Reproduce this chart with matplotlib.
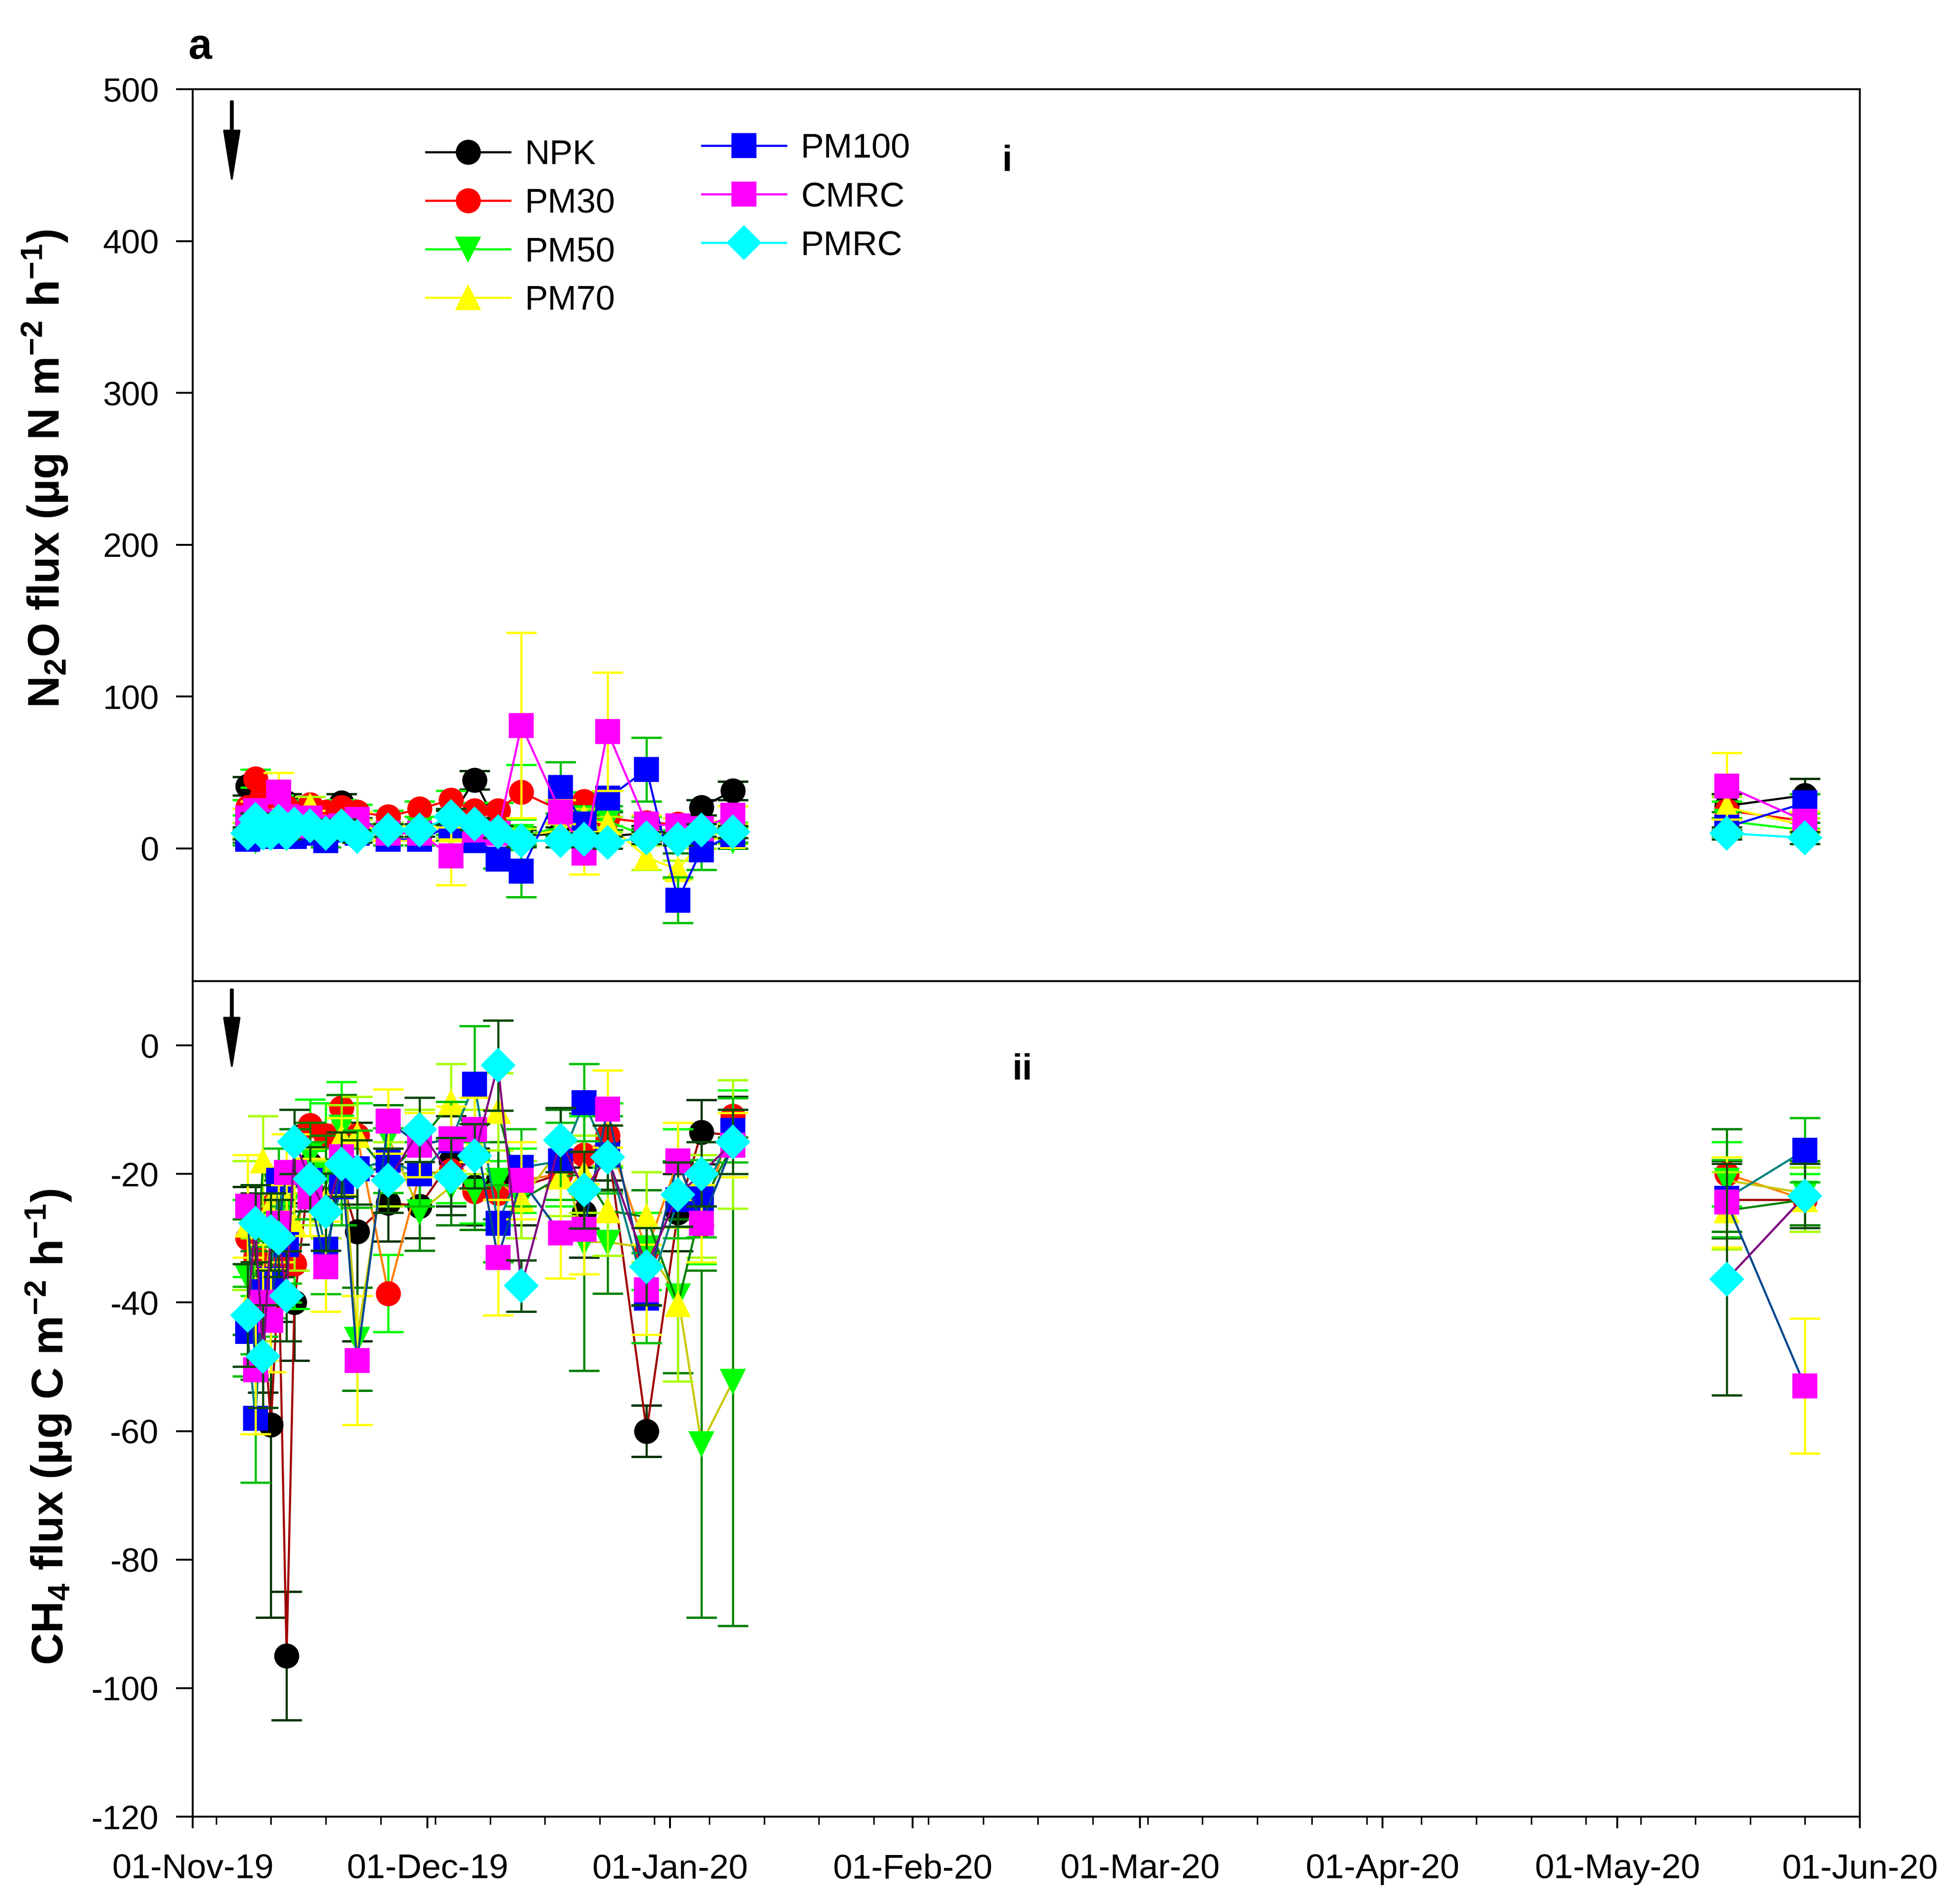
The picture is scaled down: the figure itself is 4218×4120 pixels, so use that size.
import datetime as dt
import matplotlib
matplotlib.use('Agg')
import matplotlib.pyplot as plt
import matplotlib.dates as mdates
from matplotlib.lines import Line2D

plt.rcParams['font.family'] = ['Liberation Sans', 'DejaVu Sans']
plt.rcParams['mathtext.fontset'] = 'custom'
plt.rcParams['mathtext.rm'] = 'Liberation Sans'
plt.rcParams['mathtext.bf'] = 'Liberation Sans:bold'
plt.rcParams['mathtext.default'] = 'bf'
plt.rcParams['axes.unicode_minus'] = False

# sampling dates
dates = [dt.date(2019, 11, d) for d in (8, 9, 10, 11, 12, 13, 14, 16, 18, 20, 22, 26, 30)] + \
        [dt.date(2019, 12, d) for d in (4, 7, 10, 13, 18, 21, 24, 29)] + \
        [dt.date(2020, 1, d) for d in (2, 5, 9)] + \
        [dt.date(2020, 5, 15), dt.date(2020, 5, 25)]

treatments = ['NPK', 'PM30', 'PM50', 'PM70', 'PM100', 'CMRC', 'PMRC']

# N2O flux (ug N m-2 h-1)
npk_n2o = [41, 30, 27, 22, 18, 30, 20, 18, 20, 30, 15, 12, 12, 20, 45, 15, 8, 10, 12, 8, 10, 12, 27, 38, 28, 35]
pm30_n2o = [27, 46, 35, 28, 30, 27, 22, 29, 24, 27, 24, 21, 26, 32, 25, 25, 37, 25, 31, 20, 17, 16, 14, 12, 25, 18]
pm50_n2o = [8, 5, 8, 10, 9, 7, 10, 12, 10, 14, 12, 10, 12, 10, 12, 10, 8, 14, 20, 18, 8, 3, 8, 5, 18, 12]
pm70_n2o = [12, 15, 24, 15, 14, 12, 16, 28, 12, 15, 14, 12, 10, 12, 10, 10, 8, 12, 20, 16, -6, -14, 5, 8, 27, 15]
pm100_n2o = [6, 12, 8, 10, 18, 8, 8, 10, 5, 12, 10, 6, 6, 15, 5, -7, -15, 40, 16, 33, 52, -34, -1, 9, 14, 30]
cmrc_n2o = [20, 25, 18, 15, 37, 21, 15, 20, 14, 15, 19, 10, 10, -5, 12, 10, 81, 24, -3, 77, 16, 15, 13, 22, 41, 18]
pmrc_n2o = [10, 19, 10, 10, 18, 10, 16, 15, 10, 15, 8, 12, 12, 21, 16, 11, 5, 5, 6, 4, 7, 6, 12, 11, 10, 7]

npk_n2o_se = [6, 5, 5, 4, 5, 6, 4, 5, 4, 6, 5, 4, 4, 5, 6, 5, 4, 4, 5, 4, 5, 4, 5, 6, 8, 11]
pm30_n2o_se = [5, 6, 5, 5, 5, 5, 4, 5, 4, 5, 5, 4, 5, 6, 5, 5, 18, 5, 6, 5, 4, 4, 4, 5, 6, 5]
pm50_n2o_se = [4, 4, 5, 4, 5, 4, 5, 4, 5, 5, 4, 5, 4, 5, 4, 5, 6, 6, 8, 6, 5, 6, 5, 5, 6, 5]
pm70_n2o_se = [5, 6, 6, 5, 5, 5, 5, 6, 5, 5, 5, 5, 5, 5, 5, 5, 5, 5, 6, 5, 8, 6, 5, 5, 7, 5]
pm100_n2o_se = [4, 5, 4, 4, 5, 4, 4, 4, 4, 5, 4, 4, 4, 6, 5, 6, 17, 17, 6, 5, 21, 15, 13, 5, 6, 6]
cmrc_n2o_se = [6, 6, 5, 5, 13, 5, 5, 5, 5, 5, 5, 5, 5, 19, 6, 5, 61, 8, 14, 39, 6, 5, 5, 6, 22, 6]
pmrc_n2o_se = [4, 4, 4, 4, 4, 4, 4, 4, 4, 4, 4, 4, 4, 5, 4, 4, 4, 4, 4, 4, 4, 4, 4, 4, 4, 4]

# CH4 flux (ug C m-2 h-1)
npk_ch4 = [-30, -33, -42, -59, -35, -95, -40, -18.5, -24, -21, -29, -24.5, -25, -18, -22, -21, -22, -20, -26, -15, -60, -26, -13.5, -14, -24, -24]
pm30_ch4 = [-30, -33, -35, -25, -33, -34, -34, -12.4, -14, -9.7, -14, -38.6, -20, -19.5, -22.7, -23, -21, -20, -17, -14, -32, -18, -28, -11, -20, -24]
pm50_ch4 = [-36, -42, -38, -30, -28, -25, -20, -17, -20, -12.7, -45.7, -14.3, -25.9, -22, -22.7, -21, -24, -16, -30.6, -30.6, -31.5, -39, -62, -52.3, -21, -23]
pm70_ch4 = [-28, -38, -18, -25, -22, -30, -28, -22, -24, -14.3, -14, -20, -15, -8.9, -15, -10.3, -24, -20.5, -20, -25.7, -26.7, -40.3, -25, -15.4, -25.7, -24]
pm100_ch4 = [-44.5, -58, -38.3, -36.4, -21, -31, -20, -21, -31.7, -22, -19.2, -17.9, -20, -14.8, -6, -27.7, -19, -18, -8.9, -17, -39.3, -24, -23.8, -13.2, -23.8, -16.3]
cmrc_ch4 = [-25, -50.5, -40, -42.8, -27.7, -19.8, -19.8, -23.6, -34.4, -17.3, -49, -11.8, -15.5, -14.5, -13.1, -33, -21, -29.2, -28.6, -9.9, -38, -18, -27.7, -15.5, -24.4, -53]
pmrc_ch4 = [-42, -27.7, -48.4, -29, -30, -39, -15, -20.8, -25.9, -18.5, -19.7, -21, -13.1, -20.4, -17.2, -3.1, -37.4, -14.7, -22.5, -17.4, -34.4, -23.2, -20, -15, -36.4, -23.4]

npk_ch4_se = [8, 10, 12, 30, 8, 10, 9, 6, 6, 7, 17, 6, 5, 7, 6, 6, 6, 5, 7, 6, 4, 6, 5, 6, 6, 5]
pm30_ch4_se = [6, 6, 7, 6, 6, 6, 7, 4, 5, 4, 5, 6, 5, 5, 5, 5, 5, 5, 6, 5, 6, 5, 6, 4, 5, 4]
pm50_ch4_se = [9, 10, 8, 7, 7, 6, 7, 5, 6, 5, 8, 5, 6, 6, 6, 6, 6, 6, 20, 8, 9, 12, 27, 38, 8, 5]
pm70_ch4_se = [10, 8, 7, 6, 6, 7, 7, 6, 6, 5, 6, 5, 5, 6, 5, 6, 6, 6, 6, 7, 7, 12, 8, 10, 6, 5]
pm100_ch4_se = [7, 10, 7, 6, 5, 6, 5, 6, 7, 6, 6, 5, 5, 6, 9, 6, 6, 6, 6, 6, 7, 6, 6, 5, 6, 5]
cmrc_ch4_se = [8, 10, 9, 8, 6, 6, 6, 6, 7, 6, 10, 5, 5, 5, 5, 9, 6, 7, 7, 6, 7, 6, 6, 5, 7, 10.5]
pmrc_ch4_se = [8, 6, 8, 6, 6, 7, 5, 5, 6, 5, 5, 5, 5, 6, 5, 7, 4, 5, 6, 5, 6, 5, 5, 5, 18, 5]

n2o = [npk_n2o, pm30_n2o, pm50_n2o, pm70_n2o, pm100_n2o, cmrc_n2o, pmrc_n2o]
n2o_se = [npk_n2o_se, pm30_n2o_se, pm50_n2o_se, pm70_n2o_se, pm100_n2o_se, cmrc_n2o_se, pmrc_n2o_se]
ch4 = [npk_ch4, pm30_ch4, pm50_ch4, pm70_ch4, pm100_ch4, cmrc_ch4, pmrc_ch4]
ch4_se = [npk_ch4_se, pm30_ch4_se, pm50_ch4_se, pm70_ch4_se, pm100_ch4_se, cmrc_ch4_se, pmrc_ch4_se]

markers = ['o', 'o', 'v', '^', 's', 's', 'D']
marker_colors = ['#000000', '#FF0000', '#00FF00', '#FFFF00', '#0000FF', '#FF00FF', '#00FFFF']
err_colors = ['#003300', '#00FF00', '#008000', '#A8FF00', '#00C000', '#FFFF00', '#0A4A0A']
ch4_line_colors = ['#A00000', '#FF8000', '#C8C800', '#008000', '#008080', '#00468C', '#800080']

# the sampling campaign has a gap between January and May
segments = [slice(0, 24), slice(24, 26)]

W, H = 4218, 4120
fig = plt.figure(figsize=(W / 300, H / 300), dpi=300)
ax1 = fig.add_axes([417 / W, 1 - 2123 / H, (4025 - 417) / W, (2123 - 193) / H])
ax2 = fig.add_axes([417 / W, 1 - 3931 / H, (4025 - 417) / W, (3931 - 2123) / H])


def draw_panel(ax, values, errors, line_colors):
    for i in range(len(treatments)):
        z = 2 + i
        ax.errorbar(dates, values[i], yerr=errors[i], fmt='none', ecolor=err_colors[i],
                    elinewidth=1.1, capsize=8, capthick=1.2, zorder=z)
        for seg in segments:
            ax.plot(dates[seg], values[i][seg], color=line_colors[i], lw=1.1, zorder=z + 0.1)
        ax.plot(dates, values[i], linestyle='none', marker=markers[i], ms=12,
                mfc=marker_colors[i], mec=marker_colors[i], zorder=z + 0.2)


draw_panel(ax1, n2o, n2o_se, marker_colors)
draw_panel(ax2, ch4, ch4_se, ch4_line_colors)

xmin, xmax = dt.date(2019, 11, 1), dt.date(2020, 6, 1)
for ax in (ax1, ax2):
    ax.set_xlim(xmin, xmax)
    for sp in ax.spines.values():
        sp.set_linewidth(1.0)
    ax.tick_params(axis='y', direction='out', length=8.6, width=1.0, labelsize=17.5, pad=9)

ax1.set_ylim(-87.4, 500)
ax1.set_yticks([0, 100, 200, 300, 400, 500])
ax1.tick_params(axis='x', which='both', bottom=False, labelbottom=False)

ax2.set_ylim(-120, 10)
ax2.set_yticks([-120, -100, -80, -60, -40, -20, 0])
ax2.xaxis.set_major_locator(mdates.MonthLocator(bymonthday=1))
ax2.xaxis.set_major_formatter(mdates.DateFormatter('%d-%b-%y'))
ax2.xaxis.set_minor_locator(mdates.WeekdayLocator(byweekday=mdates.MO))
ax2.tick_params(axis='x', which='major', direction='out', length=6, width=1.0, labelsize=18, pad=13)
ax2.tick_params(axis='x', which='minor', direction='out', length=4, width=0.8)

# fertilisation arrows
arrow_day = mdates.date2num(dt.date(2019, 11, 6))
arrow_style = dict(facecolor='black', edgecolor='black', width=1.0, headwidth=8, headlength=25)
ax1.annotate('', xy=(arrow_day, 441), xytext=(arrow_day, 492), arrowprops=arrow_style)
ax2.annotate('', xy=(arrow_day, -3.2), xytext=(arrow_day, 8.7), arrowprops=arrow_style)

# legend, two columns
handles = [Line2D([], [], color=marker_colors[i], lw=1.1, marker=markers[i], ms=12,
                  mfc=marker_colors[i], mec=marker_colors[i]) for i in range(len(treatments))]
leg_kw = dict(frameon=False, fontsize=18, handlelength=2.42, handletextpad=0.43,
              labelspacing=0.48, borderpad=0, borderaxespad=0, numpoints=1, loc='upper left')
leg1 = ax1.legend(handles[:4], treatments[:4], bbox_to_anchor=(0.140, 0.944), **leg_kw)
leg1.set_zorder(20)
ax1.add_artist(leg1)
leg2 = ax1.legend(handles[4:], treatments[4:], bbox_to_anchor=(0.3055, 0.951), **leg_kw)
leg2.set_zorder(20)

fig.text(97 / W, 1 - 1014 / H, 'N$_2$O flux (µg N m$^{-2}$ h$^{-1}$)', rotation=90,
         ha='center', va='center', fontsize=23, fontweight='bold')
fig.text(105 / W, 1 - 3088 / H, 'CH$_4$ flux (µg C m$^{-2}$ h$^{-1}$)', rotation=90,
         ha='center', va='center', fontsize=23, fontweight='bold')

fig.text(433 / W, 1 - 103 / H, 'a', ha='center', va='center', fontsize=22, fontweight='bold')
fig.text(2180 / W, 1 - 351 / H, 'i', ha='center', va='center', fontsize=19, fontweight='bold')
fig.text(2212 / W, 1 - 2317 / H, 'ii', ha='center', va='center', fontsize=19, fontweight='bold')

fig.savefig('out.png', dpi=300)
